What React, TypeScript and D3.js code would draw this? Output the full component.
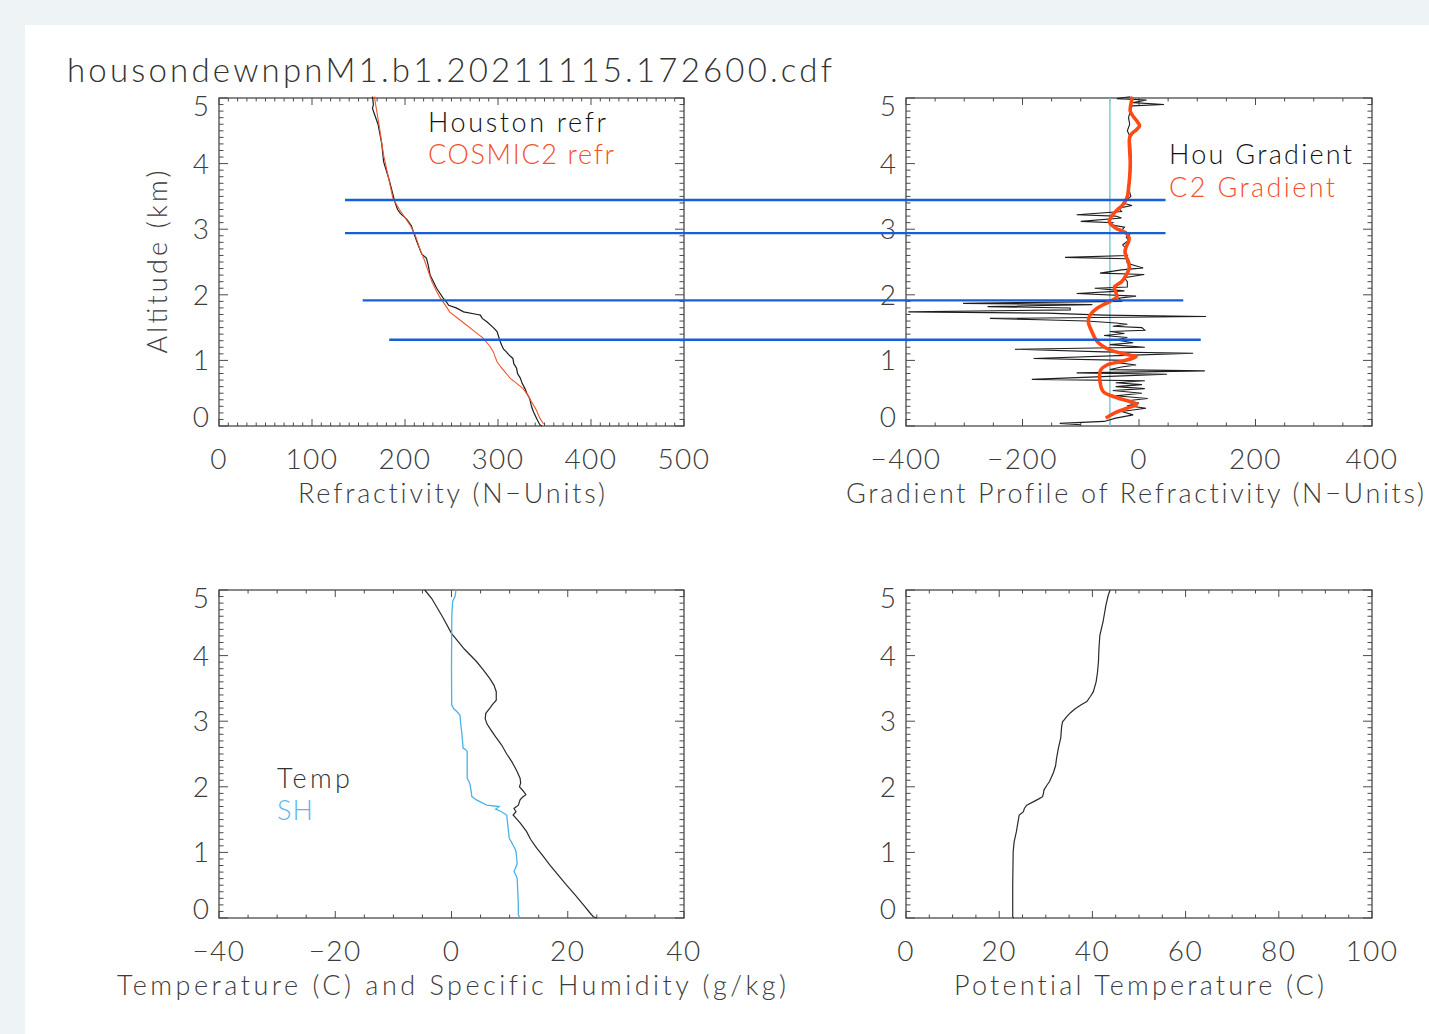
import React from 'react';
import * as d3 from 'd3';

const TITLE = 'housondewnpnM1.b1.20211115.172600.cdf';

// tick label values
const altTicks = [0, 1, 2, 3, 4, 5];
const refrTicks = [0, 100, 200, 300, 400, 500];
const gradTicks = [-400, -200, 0, 200, 400];
const tempTicks = [-40, -20, 0, 20, 40];
const thetaTicks = [0, 20, 40, 60, 80, 100];

// Houston sounding refractivity (km, N)
const houRefrAlt = [5.02, 4.9, 4.84, 4.6, 4.3, 4.03, 3.75, 3.42, 3.3, 3.24, 3.15, 3.05, 2.96, 2.8, 2.62, 2.56, 2.45, 2.3, 2.1, 1.95, 1.88, 1.84, 1.8, 1.74, 1.7, 1.69, 1.64, 1.59, 1.5, 1.44, 1.3, 1.23, 1.17, 1.13, 1.08, 1.03, 0.95, 0.88, 0.8, 0.73, 0.65, 0.57, 0.5, 0.42, 0.3, 0.22, 0.1, 0.02, 0];
const houRefrN = [165, 166, 165, 171, 175, 177, 183, 189, 192, 195, 202, 207, 209, 213, 218, 223, 225, 227, 234, 241, 245, 247, 255, 263, 278, 281, 283, 288, 295, 299, 302, 304, 306, 309, 312, 316, 317, 320, 321, 324, 326, 329, 331, 334, 336, 338, 342, 345, 347];

// COSMIC2 refractivity
const c2RefrAlt = [5.02, 4.6, 4.13, 3.8, 3.47, 3.3, 3.22, 3.05, 2.91, 2.7, 2.56, 2.4, 2.2, 2.05, 1.95, 1.85, 1.74, 1.65, 1.54, 1.45, 1.34, 1.22, 1.13, 1.05, 0.98, 0.9, 0.8, 0.73, 0.65, 0.57, 0.47, 0.37, 0.25, 0.12, 0.03];
const c2RefrN = [167, 172, 177, 182, 187, 194, 198, 206, 211, 216, 220, 224, 229, 234, 238, 243, 248, 256, 266, 274, 284, 291, 295, 297, 299, 303, 309, 313, 320, 327, 332, 336, 341, 345, 349];

// Houston gradient (N-units/km)
const houGradAlt = [5.02, 4.99, 4.97, 4.93, 4.9, 4.88, 4.8, 4.7, 4.6, 4.5, 4.4, 4.2, 4.0, 3.8, 3.6, 3.5, 3.45, 3.4, 3.36, 3.32, 3.27, 3.22, 3.2, 3.17, 3.12, 3.1, 3.07, 3.03, 2.98, 2.93, 2.88, 2.83, 2.76, 2.7, 2.65, 2.6, 2.57, 2.55, 2.48, 2.41, 2.38, 2.33, 2.31, 2.26, 2.2, 2.12, 2.1, 2.06, 2.02, 1.98, 1.95, 1.9, 1.87, 1.85, 1.82, 1.8, 1.77, 1.74, 1.72, 1.69, 1.67, 1.64, 1.62, 1.6, 1.57, 1.55, 1.52, 1.5, 1.46, 1.44, 1.41, 1.38, 1.35, 1.31, 1.27, 1.24, 1.2, 1.17, 1.13, 1.11, 1.08, 1.03, 1.0, 0.97, 0.93, 0.9, 0.86, 0.84, 0.81, 0.79, 0.76, 0.71, 0.69, 0.66, 0.63, 0.6, 0.57, 0.54, 0.5, 0.46, 0.42, 0.38, 0.35, 0.31, 0.27, 0.22, 0.17, 0.12, 0.07, 0.04, 0.02];
const houGrad = [-15, -38, 13, -10, 43, -12, -15, -18, -16, -20, -15, -14, -13, -15, -17, -14, -20, -28, -12, -35, -30, -107, -40, -30, -100, -45, -50, -25, -30, -15, -22, -18, -28, -22, -25, -20, -127, -22, -20, 7, -30, -67, 9, -25, -20, -20, -76, -25, -107, -5, -35, -30, -302, -80, -260, -118, -118, -396, -158, -60, 115, -256, -170, -90, -40, -20, -45, 5, 10, -50, -25, -60, -20, -40, -10, -50, 10, -213, -60, 93, -10, -181, -20, -40, -5, -30, -50, 113, -107, 48, -40, -184, 10, -40, 5, -40, 10, -45, 5, -40, 15, -25, 0, -20, 12, -30, -10, -40, -60, -136, -100];

// COSMIC2 gradient
const c2GradAlt = [5.02, 4.9, 4.8, 4.72, 4.64, 4.58, 4.52, 4.46, 4.4, 4.2, 4.03, 3.8, 3.62, 3.5, 3.42, 3.35, 3.29, 3.2, 3.11, 3.05, 3.01, 2.94, 2.87, 2.81, 2.73, 2.66, 2.58, 2.5, 2.4, 2.3, 2.2, 2.12, 2.04, 1.97, 1.9, 1.79, 1.69, 1.59, 1.44, 1.29, 1.16, 1.08, 1.06, 0.99, 0.93, 0.85, 0.68, 0.52, 0.45, 0.37, 0.33, 0.27, 0.19, 0.12];
const c2Grad = [-11, -14, -15, -10, -3, 1, -4, -12, -16, -16, -15, -16, -18, -20, -24, -30, -38, -47, -51, -45, -39, -22, -17, -18, -22, -24, -22, -18, -17, -22, -30, -42, -40, -38, -50, -73, -84, -87, -81, -72, -50, -15, -5, -27, -55, -66, -67, -61, -44, -15, -4, -21, -44, -57];

// temperature (C) and specific humidity (g/kg)
const tempAlt = [5.0, 4.87, 4.6, 4.34, 4.1, 3.91, 3.78, 3.65, 3.55, 3.45, 3.32, 3.25, 3.2, 3.12, 3.04, 2.96, 2.89, 2.76, 2.64, 2.5, 2.38, 2.25, 2.13, 2.06, 2.0, 1.94, 1.88, 1.84, 1.8, 1.72, 1.67, 1.62, 1.57, 1.45, 1.32, 1.2, 1.06, 0.95, 0.81, 0.65, 0.5, 0.35, 0.2, 0.08, 0.02, 0];
const temp = [-4.6, -3.4, -1.6, 0, 2.2, 4.3, 5.5, 6.6, 7.3, 7.7, 7.7, 7.0, 6.6, 5.9, 5.8, 6.1, 6.6, 7.6, 8.6, 9.5, 10.4, 11.2, 11.8, 11.9, 11.7, 12.3, 12.8, 12.2, 11.8, 11.5, 10.75, 11.1, 10.6, 11.8, 12.9, 13.6, 14.7, 15.7, 16.9, 18.4, 19.8, 21.3, 22.7, 23.8, 24.4, 25.0];
const shAlt = [5.0, 4.9, 4.83, 4.6, 4.32, 3.8, 3.25, 3.19, 3.14, 3.09, 2.95, 2.84, 2.7, 2.59, 2.56, 2.54, 2.3, 2.13, 2.08, 2.03, 1.92, 1.85, 1.8, 1.76, 1.72, 1.7, 1.66, 1.62, 1.57, 1.4, 1.21, 1.16, 1.11, 1.06, 1.01, 0.92, 0.83, 0.76, 0.71, 0.65, 0.6, 0.4, 0.2, 0.05, 0];
const sh = [0.78, 0.6, 0.2, 0.05, 0.03, 0.0, 0.03, 0.4, 1.0, 1.46, 1.6, 1.75, 1.9, 2.0, 2.5, 2.7, 2.7, 2.7, 3.0, 3.2, 3.4, 3.5, 4.3, 5.2, 6.05, 8.2, 7.6, 8.6, 9.5, 9.7, 9.95, 10.3, 10.6, 10.9, 11.1, 11.2, 11.3, 11.0, 10.75, 11.1, 11.3, 11.4, 11.5, 11.5, 11.8];

// potential temperature (C)
const thetaAlt = [0, 0.02, 0.5, 1.01, 1.16, 1.32, 1.45, 1.57, 1.62, 1.67, 1.72, 1.77, 1.82, 1.85, 1.9, 1.95, 2.02, 2.08, 2.21, 2.32, 2.43, 2.59, 2.74, 2.92, 2.99, 3.07, 3.13, 3.19, 3.25, 3.3, 3.38, 3.45, 3.6, 3.75, 3.91, 4.1, 4.31, 4.52, 4.77, 4.92, 5.0];
const theta = [23.1, 22.9, 22.9, 23.0, 23.2, 23.7, 24.0, 24.3, 25.2, 25.4, 25.9, 27.3, 28.6, 29.3, 29.5, 29.6, 30.2, 30.8, 31.6, 32.1, 32.3, 32.7, 33.2, 33.4, 33.6, 34.5, 35.3, 36.3, 37.6, 38.8, 39.6, 40.2, 40.8, 41.1, 41.3, 41.4, 41.6, 42.3, 42.9, 43.4, 43.8];

// layer markers: altitude, refractivity at left end, gradient at right end
const markerAlt = [3.445, 2.94, 1.915, 1.315];
const markerStartN = [135.5, 135.5, 154.5, 183];
const markerEndG = [45.5, 45.5, 76, 106];
const gradRefLine = -50;

const FONT = 'Lato, "DejaVu Sans", sans-serif';
const TXT = '#3c3c3c';
const NOLIG = { fontVariantLigatures: 'none' as const };

const L = { x0: 219, x1: 684 };
const R = { x0: 906, x1: 1372 };
const TOP = { y0: 98, y1: 426 };
const BOT = { y0: 590, y1: 918 };

const fmt = (v: number) => (v < 0 ? `\u2212${-v}` : `${v}`);

type Scale = d3.ScaleLinear<number, number>;

function Frame({ x, y, xTicks, xMinor, title, titleX, titleLen }: { x: Scale; y: Scale; xTicks: number[]; xMinor: number; title: string; titleX?: number; titleLen: number }) {
  const [x0, x1] = x.range();
  const [y1, y0] = y.range();
  const [d0, d1] = x.domain();
  const xm = d3.range(d0, d1 + 1e-9, xMinor).filter(v => !xTicks.some(t => Math.abs(t - v) < 1e-6));
  const ym = d3.range(0, 5.0001, 0.1).filter(v => Math.abs(v - Math.round(v)) > 1e-6);
  const st = { stroke: '#4a4a4a', strokeWidth: 1 };
  return (
    <g>
      <rect x={x0} y={y0} width={x1 - x0} height={y1 - y0} fill="none" stroke="#4a4a4a" strokeWidth={1.3} />
      {xTicks.map(v => (
        <g key={'xM' + v}>
          <line x1={x(v)} x2={x(v)} y1={y1} y2={y1 - 7} {...st} />
          <line x1={x(v)} x2={x(v)} y1={y0} y2={y0 + 7} {...st} />
        </g>
      ))}
      {xm.map(v => (
        <g key={'xm' + v}>
          <line x1={x(v)} x2={x(v)} y1={y1} y2={y1 - 3.5} {...st} />
          <line x1={x(v)} x2={x(v)} y1={y0} y2={y0 + 3.5} {...st} />
        </g>
      ))}
      {altTicks.map(v => (
        <g key={'yM' + v}>
          <line x1={x0} x2={x0 + 9} y1={y(v)} y2={y(v)} {...st} />
          <line x1={x1} x2={x1 - 9} y1={y(v)} y2={y(v)} {...st} />
        </g>
      ))}
      {ym.map(v => (
        <g key={'ym' + v}>
          <line x1={x0} x2={x0 + 4.5} y1={y(v)} y2={y(v)} {...st} />
          <line x1={x1} x2={x1 - 4.5} y1={y(v)} y2={y(v)} {...st} />
        </g>
      ))}
      {altTicks.map((v, i) => {
        const shift = i === 0 ? -9 : i === altTicks.length - 1 ? 8 : 0;
        return (
          <text key={'yl' + v} x={x0 - 10} y={y(v) + shift + 10} textAnchor="end" fontSize={28} fill={TXT} fontFamily={FONT} fontWeight={300}>
            {fmt(v)}
          </text>
        );
      })}
      {xTicks.map(v => (
        <text key={'xl' + v} x={x(v)} y={y1 + 43} textAnchor="middle" fontSize={28} fill={TXT} fontFamily={FONT} fontWeight={300} letterSpacing={1.5}>
          {fmt(v)}
        </text>
      ))}
      <text x={titleX ?? (x0 + x1) / 2 - titleLen / 2} y={y1 + 77} fontSize={27} fill={TXT} fontFamily={FONT} fontWeight={300} textLength={titleLen} lengthAdjust="spacing" style={NOLIG}>
        {title}
      </text>
    </g>
  );
}

const Label = ({ x, y, w, color, children }: { x: number; y: number; w: number; color: string; children: string }) => (
  <text x={x} y={y} fontSize={27} fill={color} fontFamily={FONT} fontWeight={300} textLength={w} lengthAdjust="spacing" style={NOLIG}>
    {children}
  </text>
);

export default function App() {
  const yTop = d3.scaleLinear().domain([0, 5]).range([TOP.y1, TOP.y0]);
  const yBot = d3.scaleLinear().domain([0, 5]).range([BOT.y1, BOT.y0]);
  const xRefr = d3.scaleLinear().domain([0, 500]).range([L.x0, L.x1]);
  const xGrad = d3.scaleLinear().domain([-400, 400]).range([R.x0, R.x1]);
  const xTemp = d3.scaleLinear().domain([-40, 40]).range([L.x0, L.x1]);
  const xTheta = d3.scaleLinear().domain([0, 100]).range([R.x0, R.x1]);

  const path = (xs: Scale, ys: Scale, vals: number[], alts: number[], curve: d3.CurveFactory = d3.curveLinear) =>
    d3.line<number>().x((_, i) => xs(vals[i])).y((_, i) => ys(alts[i])).curve(curve)(vals) || '';

  return (
    <div style={{ position: 'absolute', left: 0, top: 0, width: 1429, height: 1034, overflow: 'hidden' }}>
      <svg width={1429} height={1034} style={{ display: 'block' }}>
        <rect x={0} y={0} width={1429} height={1034} fill="#eef3f6" />
        <rect x={25} y={25} width={1404} height={1009} fill="#ffffff" />
        <text x={67} y={82} fontSize={33} fill="#333" fontFamily={FONT} fontWeight={300} textLength={765} lengthAdjust="spacing">
          {TITLE}
        </text>

        <Frame x={xRefr} y={yTop} xTicks={refrTicks} xMinor={10} title="Refractivity (N−Units)" titleLen={307} />
        <Frame x={xGrad} y={yTop} xTicks={gradTicks} xMinor={50} title="Gradient Profile of Refractivity (N−Units)" titleX={846} titleLen={578} />
        <Frame x={xTemp} y={yBot} xTicks={tempTicks} xMinor={5} title="Temperature (C) and Specific Humidity (g/kg)" titleLen={669} />
        <Frame x={xTheta} y={yBot} xTicks={thetaTicks} xMinor={5} title="Potential Temperature (C)" titleLen={370} />

        <text transform="translate(167,262) rotate(-90)" textAnchor="middle" fontSize={27} fill={TXT} fontFamily={FONT} fontWeight={300} textLength={183} lengthAdjust="spacing">
          Altitude (km)
        </text>

        {/* refractivity */}
        <path d={path(xRefr, yTop, houRefrN, houRefrAlt)} fill="none" stroke="#1e1e1e" strokeWidth={1.2} />
        <path d={path(xRefr, yTop, c2RefrN, c2RefrAlt)} fill="none" stroke="#f2552c" strokeWidth={1.1} />
        <Label x={428} y={132} w={178} color="#111">Houston refr</Label>
        <Label x={428} y={164} w={186} color="#f4502a">COSMIC2 refr</Label>

        {/* gradient */}
        <line x1={xGrad(gradRefLine)} x2={xGrad(gradRefLine)} y1={TOP.y0} y2={TOP.y1} stroke="#86cde0" strokeWidth={1.6} />
        <path d={path(xGrad, yTop, houGrad, houGradAlt)} fill="none" stroke="#1e1e1e" strokeWidth={1.1} />
        <path d={path(xGrad, yTop, c2Grad, c2GradAlt, d3.curveCatmullRom)} fill="none" stroke="#ff4a16" strokeWidth={3.6} />
        <Label x={1169} y={164} w={183} color="#111">Hou Gradient</Label>
        <Label x={1169} y={197} w={166} color="#f4502a">C2 Gradient</Label>

        {/* layer markers */}
        {markerAlt.map((a, i) => (
          <line key={'mk' + i} x1={xRefr(markerStartN[i])} x2={xGrad(markerEndG[i])} y1={yTop(a)} y2={yTop(a)} stroke="#1560d8" strokeWidth={2.4} />
        ))}

        {/* temperature & humidity */}
        <path d={path(xTemp, yBot, temp, tempAlt)} fill="none" stroke="#2a2a2a" strokeWidth={1.2} />
        <path d={path(xTemp, yBot, sh, shAlt)} fill="none" stroke="#4bb2e6" strokeWidth={1.3} />
        <Label x={277} y={788} w={73} color="#333">Temp</Label>
        <Label x={277} y={820} w={36} color="#5bb8ea">SH</Label>

        {/* potential temperature */}
        <path d={path(xTheta, yBot, theta, thetaAlt)} fill="none" stroke="#2a2a2a" strokeWidth={1.2} />
      </svg>
    </div>
  );
}
